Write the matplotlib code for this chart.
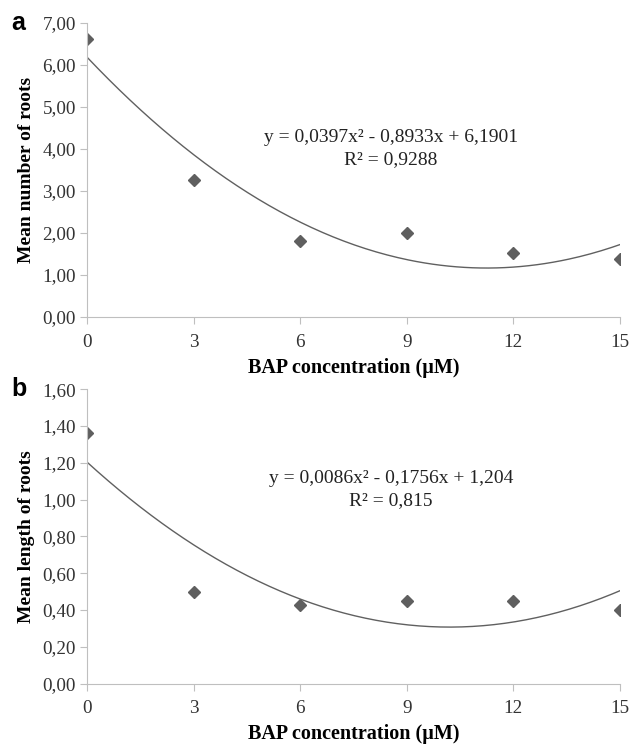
import numpy as np
import matplotlib
matplotlib.use("Agg")
import matplotlib.pyplot as plt
from matplotlib.ticker import FuncFormatter

plt.rcParams['font.family'] = ['Liberation Serif', 'DejaVu Serif']

# BAP concentrations (uM)
bap = [0, 3, 6, 9, 12, 15]
# mean number of roots (panel a)
roots_number = [6.62, 3.27, 1.80, 2.01, 1.52, 1.38]
# mean length of roots (panel b)
roots_length = [1.36, 0.50, 0.43, 0.45, 0.45, 0.40]

# trendline coefficients printed on the chart
coef_a = [0.0397, -0.8933, 6.1901]
coef_b = [0.0086, -0.1756, 1.204]
eq_a = "y = 0,0397x² - 0,8933x + 6,1901\nR² = 0,9288"
eq_b = "y = 0,0086x² - 0,1756x + 1,204\nR² = 0,815"

gray = "#bfbfbf"
mark = "#5f5f5f"

fig = plt.figure(figsize=(6.3, 7.44), dpi=100)
ax1 = fig.add_axes([0.138, 0.574, 0.846, 0.395])
ax2 = fig.add_axes([0.138, 0.081, 0.846, 0.396])

comma = FuncFormatter(lambda v, p: f"{v:.2f}".replace(".", ","))

def panel(ax, y, coef, eq, ymax, ystep, ylabel, txt_y, letter):
    xs = np.linspace(0, 15, 200)
    ax.plot(xs, np.polyval(coef, xs), color="#606060", lw=1.0)
    ax.plot(bap, y, linestyle="none", marker="D", ms=6.5, color=mark)
    ax.set_xlim(0, 15)
    ax.set_ylim(0, ymax)
    ax.set_xticks(bap)
    ax.set_yticks(np.arange(0, ymax + ystep / 2, ystep))
    ax.yaxis.set_major_formatter(comma)
    for s in ["top", "right"]:
        ax.spines[s].set_visible(False)
    for s in ["left", "bottom"]:
        ax.spines[s].set_color(gray)
    ax.tick_params(colors=gray, labelcolor="#333333", labelsize=13.8,
                   length=5, direction="out", pad=3)
    ax.tick_params(axis="x", pad=7)
    ax.set_xlabel("BAP concentration (µM)", fontsize=14.5, fontweight="bold", labelpad=5)
    ax.set_ylabel(ylabel, fontsize=14, fontweight="bold", labelpad=5)
    ax.text(8.55, txt_y, eq, ha="center", va="top", fontsize=14,
            linespacing=1.4, color="#222222")
    ax.text(-0.142, 1.0, letter, transform=ax.transAxes, fontsize=18,
            fontweight="bold", family="Liberation Sans", ha="left", va="center")

panel(ax1, roots_number, coef_a, eq_a, 7, 1, "Mean number of roots", 4.48, "a")
panel(ax2, roots_length, coef_b, eq_b, 1.6, 0.2, "Mean length of roots", 1.16, "b")

fig.savefig("out.png", dpi=100)
